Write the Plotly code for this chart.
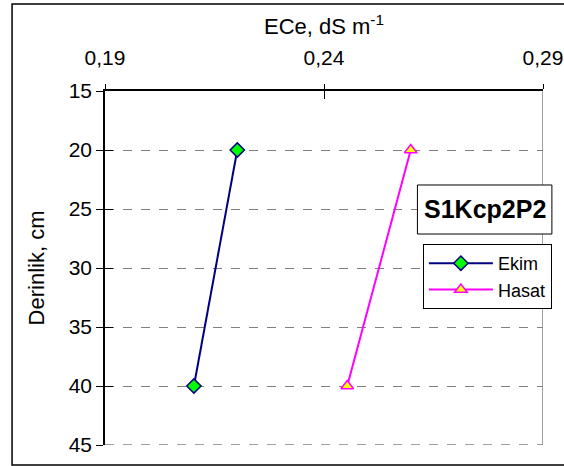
import plotly.graph_objects as go

depth = [20, 40]
ekim = [0.2202, 0.2103]
hasat = [0.2598, 0.2453]
x_ticks = [0.19, 0.24, 0.29]
y_ticks = [15, 20, 25, 30, 35, 40, 45]

FONT = "Liberation Sans, Arial, sans-serif"

fig = go.Figure()
fig.add_trace(go.Scatter(
    x=ekim, y=depth, name="Ekim", mode="lines+markers",
    line=dict(color="#000080", width=2),
    marker=dict(symbol="diamond", size=11, color="#00FF00",
                line=dict(color="#000080", width=1.5)),
))
fig.add_trace(go.Scatter(
    x=hasat, y=depth, name="Hasat", mode="lines+markers",
    line=dict(color="#FF00FF", width=2),
    marker=dict(symbol="triangle-up", size=11, color="#FFFF00",
                line=dict(color="#FF00FF", width=1.5)),
))
# helper trace on the overlay axes that carry the inner half of the crossing ticks
fig.add_trace(go.Scatter(x=[0.2], y=[16], xaxis="x2", yaxis="y2", mode="lines",
                         line=dict(width=0), showlegend=False, hoverinfo="skip"))

fig.update_layout(
    width=564, height=466,
    margin=dict(l=105, r=16, t=91, b=21),
    paper_bgcolor="white", plot_bgcolor="white",
    separators=", ",
    font=dict(family=FONT, size=18, color="black"),
    showlegend=True,
    legend=dict(
        x=1.0203, xanchor="right", y=0.5678, yanchor="top",
        bgcolor="white", bordercolor="black", borderwidth=1,
        font=dict(size=18), tracegroupgap=0, itemwidth=64,
    ),
    xaxis=dict(
        side="top", range=[0.19, 0.29], tickvals=x_ticks, tickformat=".2f",
        tickfont=dict(size=21),
        showline=True, linecolor="black", linewidth=1.5,
        ticks="outside", ticklen=5, tickcolor="black", tickwidth=1,
        ticklabelstandoff=11,
        showgrid=False, zeroline=False, automargin=False,
        title=dict(text="ECe, dS m<sup>-1</sup>", standoff=5),
    ),
    xaxis2=dict(
        side="top", overlaying="x", anchor="y2", range=[0.19, 0.29], tickvals=x_ticks,
        ticks="inside", ticklen=8, tickcolor="black", tickwidth=1,
        showticklabels=False, showgrid=False, zeroline=False,
        showline=True, linecolor="black", linewidth=1.5, automargin=False,
    ),
    yaxis=dict(
        range=[45, 15], tickvals=y_ticks, tickfont=dict(size=21),
        showline=True, linecolor="black", linewidth=1.5,
        ticks="outside", ticklen=7, tickcolor="black", tickwidth=1,
        showgrid=True, gridcolor="#808080", griddash="dash", gridwidth=1,
        zeroline=False, automargin=False,
        title=dict(text="Derinlik, cm", standoff=18),
    ),
    yaxis2=dict(
        side="left", overlaying="y", anchor="x2", range=[45, 15], tickvals=y_ticks,
        ticks="inside", ticklen=8, tickcolor="black", tickwidth=1,
        showticklabels=False, showgrid=False, zeroline=False,
        showline=True, linecolor="black", linewidth=1.5, automargin=False,
    ),
)

# right border of the plot area (gray) and bottom dashed line
fig.add_shape(type="line", xref="x", yref="y", x0=0.29, x1=0.29, y0=15, y1=45,
              line=dict(color="#808080", width=1.5))
fig.add_shape(type="line", xref="x", yref="y", x0=0.19, x1=0.29, y0=45, y1=45,
              line=dict(color="#808080", width=1.5, dash="dash"))
# outer chart frame
fig.add_shape(type="rect", xref="paper", yref="paper",
              x0=-0.2122, x1=1.1, y0=-0.0565, y1=1.2458,
              line=dict(color="black", width=1.5), layer="above")

# series label box
fig.add_shape(type="rect", xref="paper", yref="paper",
              x0=0.7133, x1=1.0203, y0=0.596, y1=0.7345,
              line=dict(color="black", width=1), fillcolor="white", layer="above")
fig.add_annotation(
    xref="paper", yref="paper", x=0.8668, xanchor="center", y=0.6667, yanchor="middle",
    text="<b>S1Kcp2P2</b>", showarrow=False,
    font=dict(size=25, color="black", family=FONT),
)

fig.write_html("out.html")
